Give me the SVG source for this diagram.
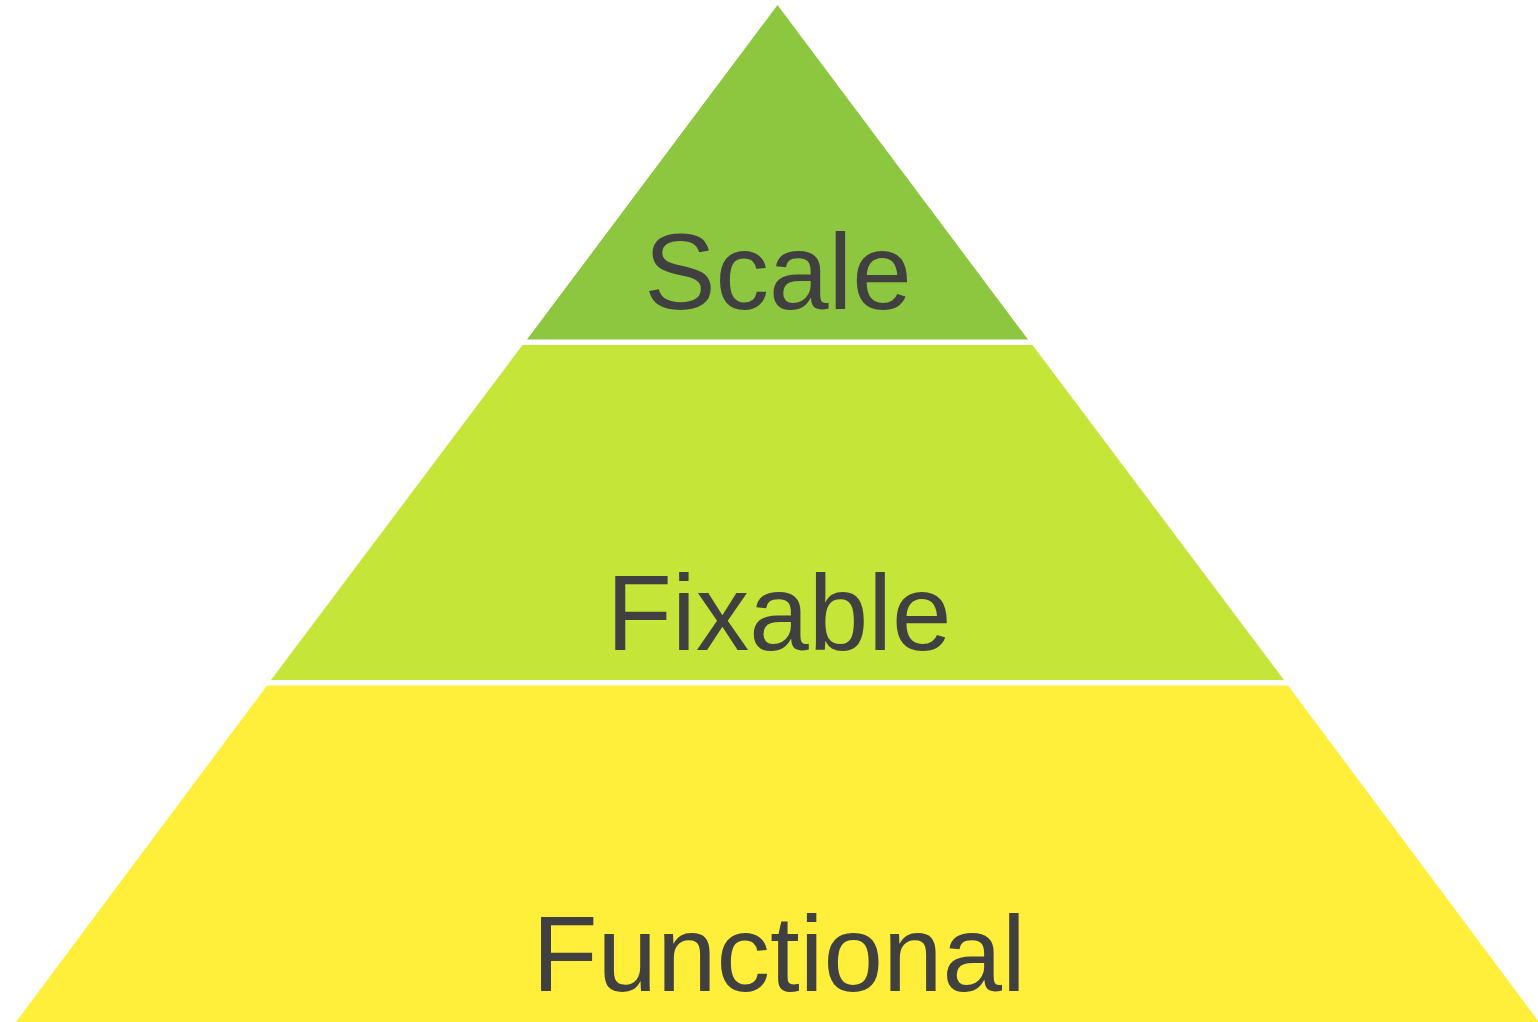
<svg xmlns="http://www.w3.org/2000/svg" width="1538" height="1022" viewBox="0 0 1538 1022">
<style>
.lbl{font-family:"Liberation Sans",Arial,sans-serif;font-size:107px;fill:#404040;text-anchor:middle}
</style>
<rect width="1538" height="1022" fill="#ffffff"/>
<g id="tier-scale">
<polygon points="777.5,5 1028,339.5 527,339.5" fill="#8DC63F"/>
<text class="lbl" x="778" y="309">Scale</text>
</g>
<g id="tier-fixable">
<polygon points="522.5,345 1032.5,345 1284,680 271,680" fill="#C6E539"/>
<text class="lbl" x="779" y="650">Fixable</text>
</g>
<g id="tier-functional">
<polygon points="267,685.5 1288,685.5 1539,1022 16,1022" fill="#FFEF3A"/>
<text class="lbl" x="779" y="991">Functional</text>
</g>
<g id="connectors"></g>
</svg>
